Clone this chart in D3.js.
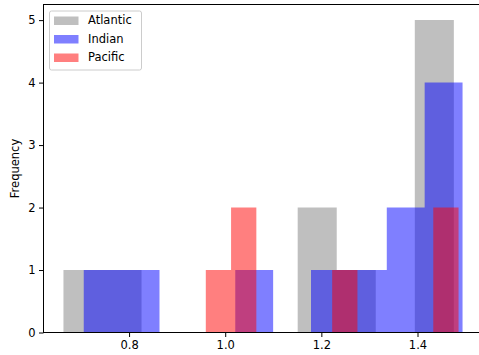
<!DOCTYPE html>
<html>
<head>
<meta charset="utf-8">
<script src="https://cdn.jsdelivr.net/npm/d3@7"></script>
<style>
  html, body { margin: 0; padding: 0; background: #fff; }
  svg { display: block; font-family: "DejaVu Sans", sans-serif; }
</style>
</head>
<body>
<svg id="chart" width="479" height="355"></svg>
<script>
// Histogram series: 10 equal-width bins between each series' min and max
const seriesNames = ["Atlantic", "Indian", "Pacific"];
const seriesColors = ["gray", "blue", "red"];
const binRanges = [[0.6635, 1.4756], [0.7057, 1.4937], [0.9596, 1.4854]];
const atlanticCounts = [1, 1, 0, 0, 0, 0, 2, 1, 0, 5];
const indianCounts   = [1, 1, 0, 0, 1, 0, 1, 1, 2, 4];
const pacificCounts  = [1, 2, 0, 0, 0, 1, 0, 0, 0, 2];
const seriesCounts = [atlanticCounts, indianCounts, pacificCounts];
const xTickValues = [0.8, 1.0, 1.2, 1.4];
const yTickValues = [0, 1, 2, 3, 4, 5];

const svg = d3.select("#chart");
const margin = { left: 43.5, top: 4.5, right: 482.5, bottom: 332.5 };

const series = seriesNames.map((name, i) => {
  const [lo, hi] = binRanges[i];
  const w = (hi - lo) / seriesCounts[i].length;
  return {
    name, color: seriesColors[i],
    bins: seriesCounts[i].map((c, k) => ({ x0: lo + k * w, x1: lo + (k + 1) * w, count: c }))
  };
});

const xMin = d3.min(binRanges, d => d[0]);
const xMax = d3.max(binRanges, d => d[1]);
const pad = (xMax - xMin) * 0.05;
const x = d3.scaleLinear().domain([xMin - pad, xMax + pad]).range([margin.left, margin.right]);
const yMax = d3.max(seriesCounts, c => d3.max(c)) * 1.05;
const y = d3.scaleLinear().domain([0, yMax]).range([margin.bottom, margin.top]);

// bars: each series drawn as a single path so adjacent bins join without seams
series.forEach(s => {
  const path = d3.path();
  s.bins.filter(b => b.count > 0).forEach(b => {
    path.rect(x(b.x0), y(b.count), x(b.x1) - x(b.x0), y(0) - y(b.count));
  });
  svg.append("path")
    .attr("d", path.toString())
    .attr("fill", s.color)
    .attr("fill-opacity", 0.5)
    .attr("fill-rule", "nonzero");
});

// axes
const xAxis = svg.append("g")
  .attr("transform", `translate(0,${margin.bottom})`)
  .call(d3.axisBottom(x).tickValues(xTickValues).tickFormat(d3.format(".1f")).tickSize(4.5).tickPadding(3.5));
const yAxis = svg.append("g")
  .attr("transform", `translate(${margin.left},0)`)
  .call(d3.axisLeft(y).tickValues(yTickValues).tickFormat(d3.format("d")).tickSize(4.5).tickPadding(3.5));
[xAxis, yAxis].forEach(a => {
  a.select(".domain").remove();
  a.selectAll("line").attr("stroke", "#000").attr("stroke-width", 1);
  a.selectAll("text").attr("font-size", "11.5px").attr("fill", "#000")
    .attr("font-family", "DejaVu Sans, sans-serif");
});

// frame
svg.append("rect")
  .attr("x", margin.left).attr("y", margin.top)
  .attr("width", margin.right - margin.left).attr("height", margin.bottom - margin.top)
  .attr("fill", "none").attr("stroke", "#000").attr("stroke-width", 1);

// y label
svg.append("text")
  .attr("transform", `translate(15.5,${(margin.top + margin.bottom) / 2}) rotate(-90)`)
  .attr("text-anchor", "middle")
  .attr("dominant-baseline", "middle")
  .attr("font-size", "11.5px")
  .text("Frequency");

// legend
const lg = svg.append("g").attr("transform", "translate(49.5,11)");
lg.append("rect").attr("width", 92).attr("height", 59).attr("rx", 2)
  .attr("fill", "#fff").attr("fill-opacity", 0.8).attr("stroke", "#ccc").attr("stroke-width", 1);
series.forEach((s, i) => {
  const row = lg.append("g").attr("transform", `translate(0,${9.5 + i * 18.5})`);
  row.append("rect").attr("x", 4.5).attr("y", -4).attr("width", 24.5).attr("height", 8.5)
    .attr("fill", s.color).attr("fill-opacity", 0.5);
  row.append("text").attr("x", 38.5).attr("y", 0).attr("dominant-baseline", "middle")
    .attr("font-size", "11.5px").text(s.name);
});
</script>
</body>
</html>
